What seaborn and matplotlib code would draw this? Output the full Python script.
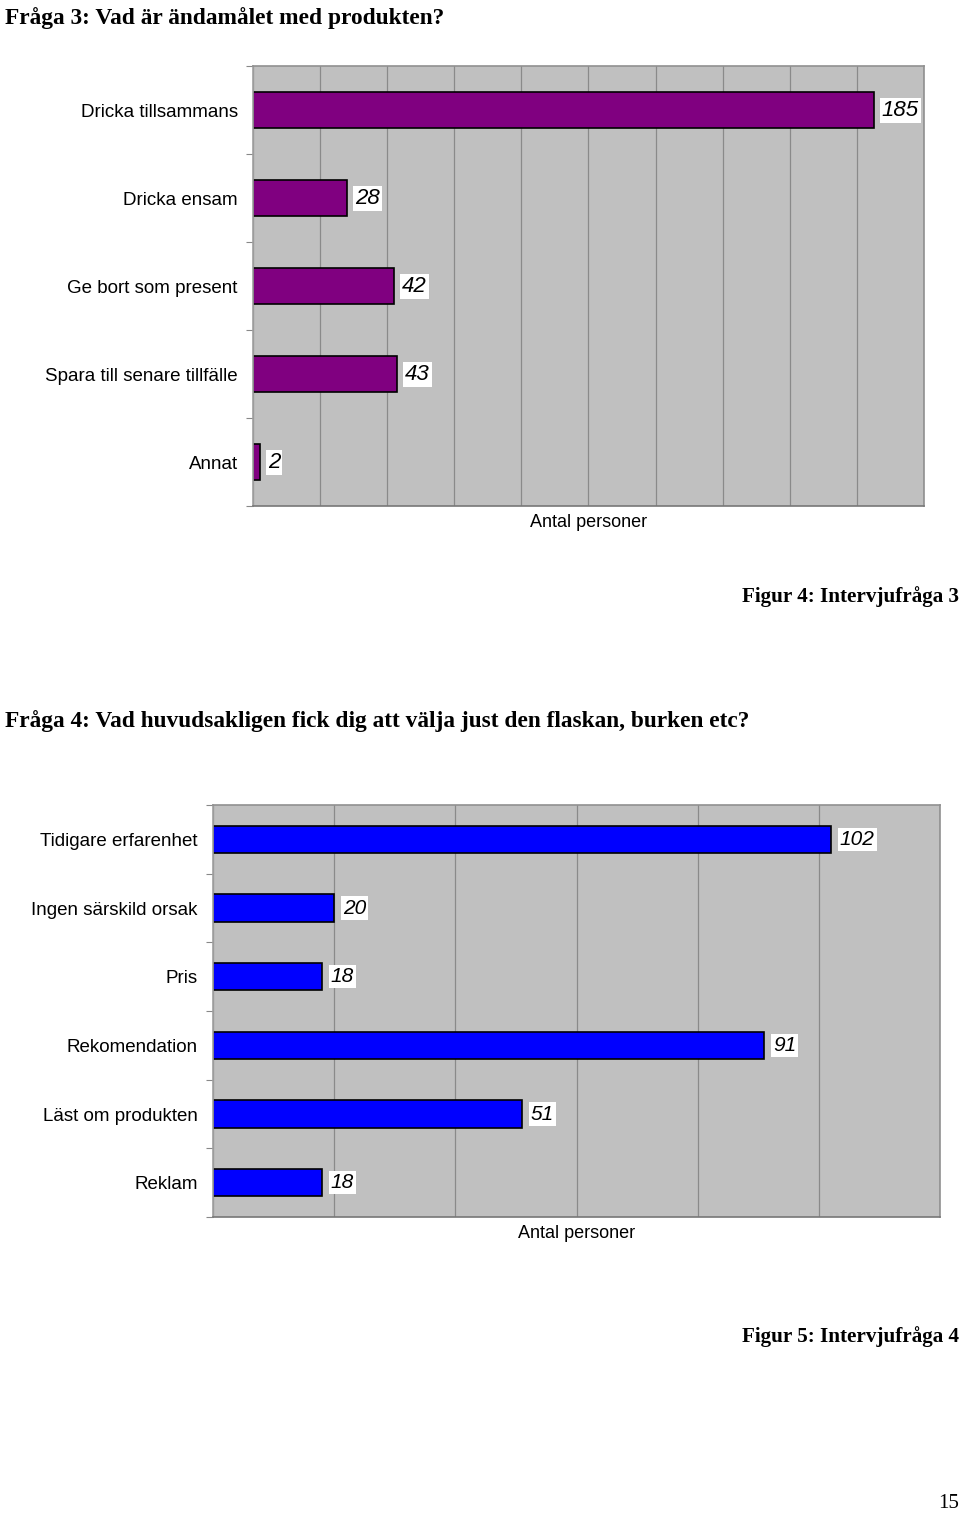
import matplotlib
matplotlib.use("Agg")
import matplotlib.pyplot as plt
import seaborn as sns
import pandas as pd
import numpy as np

# data, question 3
q3_labels = ["Dricka tillsammans", "Dricka ensam", "Ge bort som present",
             "Spara till senare tillfälle", "Annat"]
q3_values = [185, 28, 42, 43, 2]

# data, question 4
q4_labels = ["Tidigare erfarenhet", "Ingen särskild orsak", "Pris",
             "Rekomendation", "Läst om produkten", "Reklam"]
q4_values = [102, 20, 18, 91, 51, 18]

sns.set_style("white")
plt.rcParams["font.family"] = ["Liberation Sans", "DejaVu Sans"]
plt.rcParams["text.color"] = "black"
plt.rcParams["axes.labelcolor"] = "black"
plt.rcParams["ytick.color"] = "black"

fig = plt.figure(figsize=(9.6, 15.15), dpi=100)


def hbar(ax, labels, values, color, xmax, lab_size):
    df = pd.DataFrame({"cat": labels, "val": values})
    sns.barplot(data=df, y="cat", x="val", orient="h", color=color,
                width=0.4, edgecolor="black", linewidth=1.2,
                saturation=1, ax=ax)
    ax.set_facecolor("#c0c0c0")
    ax.set_xlim(0, xmax)
    ax.set_ylim(len(labels) - 0.5, -0.5)
    ax.set_xticks(np.arange(0, xmax + 1, 20))
    ax.set_xticklabels([])
    ax.tick_params(axis="x", length=0)
    ax.xaxis.grid(True, color="#8a8a8a", linewidth=0.9)
    ax.set_axisbelow(True)
    ax.set_yticks(range(len(labels)))
    ax.set_yticklabels(labels, fontsize=13.5)
    ax.tick_params(axis="y", length=0, pad=11)
    ax.set_yticks(np.arange(-0.5, len(labels), 1.0), minor=True)
    ax.tick_params(axis="y", which="minor", left=True, length=5,
                   width=0.8, color="#888888")
    for s in ax.spines.values():
        s.set_color("#909090")
        s.set_linewidth(1.2)
    ax.spines["bottom"].set_color("#777777")
    ax.spines["left"].set_color("#a0a0a0")
    ax.set_xlabel("Antal personer", fontsize=13, labelpad=2)
    ax.set_ylabel("")
    for i, v in enumerate(values):
        ax.text(v + xmax * 0.012, i, str(v), va="center", ha="left",
                fontsize=lab_size, style="italic", color="black",
                bbox=dict(facecolor="white", edgecolor="none", pad=1.5))


ax1 = fig.add_axes([0.2635, 0.666, 0.699, 0.2904])
hbar(ax1, q3_labels, q3_values, "#800080", 200, 16)

ax2 = fig.add_axes([0.2219, 0.1967, 0.7573, 0.2719])
hbar(ax2, q4_labels, q4_values, "#0000ff", 120, 15)

serif = ["Liberation Serif", "DejaVu Serif"]
fig.text(0.005, 1 - 18 / 1515, "Fråga 3: Vad är ändamålet med produkten?",
         family=serif, fontweight="bold", fontsize=16.8, va="center")
fig.text(0.999, 1 - 597 / 1515, "Figur 4: Intervjufråga 3",
         family=serif, fontweight="bold", fontsize=15.2, va="center", ha="right")
fig.text(0.005, 1 - 721 / 1515,
         "Fråga 4: Vad huvudsakligen fick dig att välja just den flaskan, burken etc?",
         family=serif, fontweight="bold", fontsize=16.8, va="center")
fig.text(0.999, 1 - 1337 / 1515, "Figur 5: Intervjufråga 4",
         family=serif, fontweight="bold", fontsize=15.2, va="center", ha="right")
fig.text(0.999, 1 - 1503 / 1515, "15", family=serif, fontsize=15,
         va="center", ha="right")

fig.savefig("out.png", dpi=100)
